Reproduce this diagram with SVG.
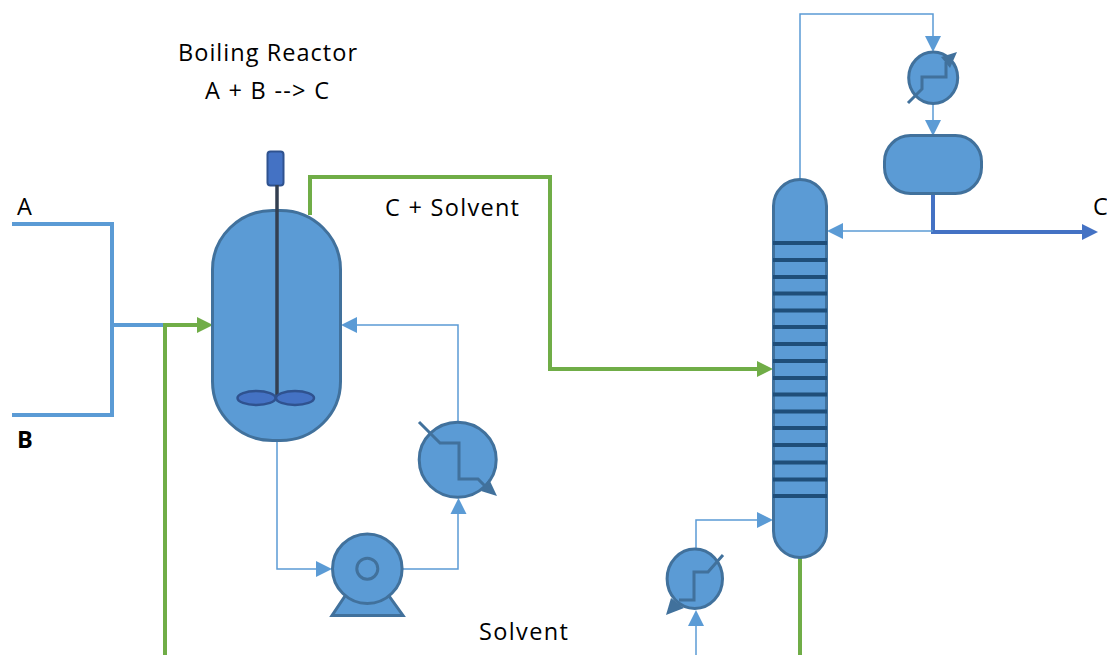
<svg xmlns="http://www.w3.org/2000/svg" width="1107" height="655" viewBox="0 0 1107 655">
<style>
.eq{fill:#5B9BD5;stroke:#41719C;stroke-width:3}
.zig{fill:none;stroke:#41719C;stroke-width:3}
.head{fill:#41719C;stroke:none}
.thin{fill:none;stroke:#5B9BD5;stroke-width:1.5}
.mid{fill:none;stroke:#5B9BD5;stroke-width:4}
.green{fill:none;stroke:#70AD47;stroke-width:4}
.blue{fill:none;stroke:#4472C4;stroke-width:4}
.ab{fill:#5B9BD5}
.ag{fill:#70AD47}
.abl{fill:#4472C4}
.tray{stroke:#1F4E79;stroke-width:4}
text{font-family:"Open Sans","Liberation Sans",sans-serif;font-size:23.500px;fill:#000}
</style>
<g id="connectors">
<path class="mid" d="M12 224H112V415H12M112 325H165"/>
<path class="green" d="M165 655V325H197"/>
<path class="ag" d="M213 325L197 317V333Z"/>
<path class="green" d="M310 215V177H550V369H757"/>
<path class="ag" d="M773 369L757 361V377Z"/>
<path class="thin" d="M277 441V569H316"/>
<path class="ab" d="M332 569L316 561V577Z"/>
<path class="thin" d="M403 569H458V514"/>
<path class="ab" d="M458.500 498L450.500 514H466.500Z"/>
<path class="thin" d="M458 421V325H357"/>
<path class="ab" d="M341 325L357 317V333Z"/>
<path class="thin" d="M800 179V14H933V36"/>
<path class="ab" d="M933 52L925 36H941Z"/>
<path class="thin" d="M933 104V120"/>
<path class="ab" d="M933 136L925 120H941Z"/>
<path class="blue" d="M933 194V232H1083"/>
<path class="abl" d="M1098 232L1082 224V240Z"/>
<path class="thin" d="M933 231H843"/>
<path class="ab" d="M827 231L843 223V239Z"/>
<path class="thin" d="M696 548V520H757"/>
<path class="ab" d="M773 520L757 512V528Z"/>
<path class="thin" d="M696 655V626"/>
<path class="ab" d="M696 610L688 626H704Z"/>
<path class="green" d="M800 558V655"/>
</g>
<g id="reactor">
<rect class="eq" x="212.500" y="210.500" width="128" height="230" rx="60" ry="59"/>
<rect x="267.500" y="151.500" width="16" height="34" rx="3" fill="#4472C4" stroke="#2F528F" stroke-width="2"/>
<path d="M277 185V398" stroke="#333F50" stroke-width="3.500" fill="none"/>
<ellipse cx="256.500" cy="398" rx="19" ry="7" fill="#4472C4" stroke="#2F528F" stroke-width="2.500"/>
<ellipse cx="295" cy="398" rx="19" ry="7" fill="#4472C4" stroke="#2F528F" stroke-width="2.500"/>
</g>
<g id="pump">
<path class="eq" d="M345 596L332 615.500H403L389 596Z"/>
<circle class="eq" cx="367.300" cy="568.700" r="34.800"/>
<circle class="eq" cx="367.300" cy="568.700" r="10.500"/>
</g>
<g id="reactor-exchanger">
<ellipse class="eq" cx="457.700" cy="459.700" rx="38.500" ry="37.500"/>
<path class="zig" d="M419 422L440 443H459V479H478L488 489"/>
<path class="head" d="M497 496L489 479L481 491Z"/>
</g>
<g id="column">
<rect class="eq" x="773.500" y="179.500" width="53" height="378" rx="26.500"/>
<g class="tray">
<path d="M773 243H827"/><path d="M773 260H827"/><path d="M773 277H827"/><path d="M773 293.500H827"/>
<path d="M773 310.500H827"/><path d="M773 327H827"/><path d="M773 344H827"/><path d="M773 361H827"/>
<path d="M773 378H827"/><path d="M773 394.500H827"/><path d="M773 411.500H827"/><path d="M773 428H827"/>
<path d="M773 445H827"/><path d="M773 462.500H827"/><path d="M773 479.500H827"/><path d="M773 496H827"/>
</g>
</g>
<g id="condenser">
<ellipse class="eq" cx="933.200" cy="77.800" rx="24.500" ry="25.700"/>
<path class="zig" d="M908 103L922 89V77H946V62"/>
<path class="head" d="M957 52L941 57L950 68Z"/>
</g>
<g id="drum">
<rect class="eq" x="884.500" y="135.500" width="97" height="58" rx="26"/>
</g>
<g id="reboiler">
<ellipse class="eq" cx="694.800" cy="578.800" rx="27.700" ry="29.700"/>
<path class="zig" d="M723 555L708 572H694V600H679"/>
<path class="head" d="M666 615L671 598L684 608Z"/>
</g>
<g id="labels">
<text x="178" y="61" textLength="179" lengthAdjust="spacing">Boiling Reactor</text>
<text x="205" y="99" textLength="124" lengthAdjust="spacing">A + B --&gt; C</text>
<text x="17" y="215">A</text>
<text x="17" y="448" style="font-weight:700">B</text>
<text x="385" y="216" textLength="134" lengthAdjust="spacing">C + Solvent</text>
<text x="479" y="640" textLength="89" lengthAdjust="spacing">Solvent</text>
<text x="1093" y="215">C</text>
</g>
</svg>
